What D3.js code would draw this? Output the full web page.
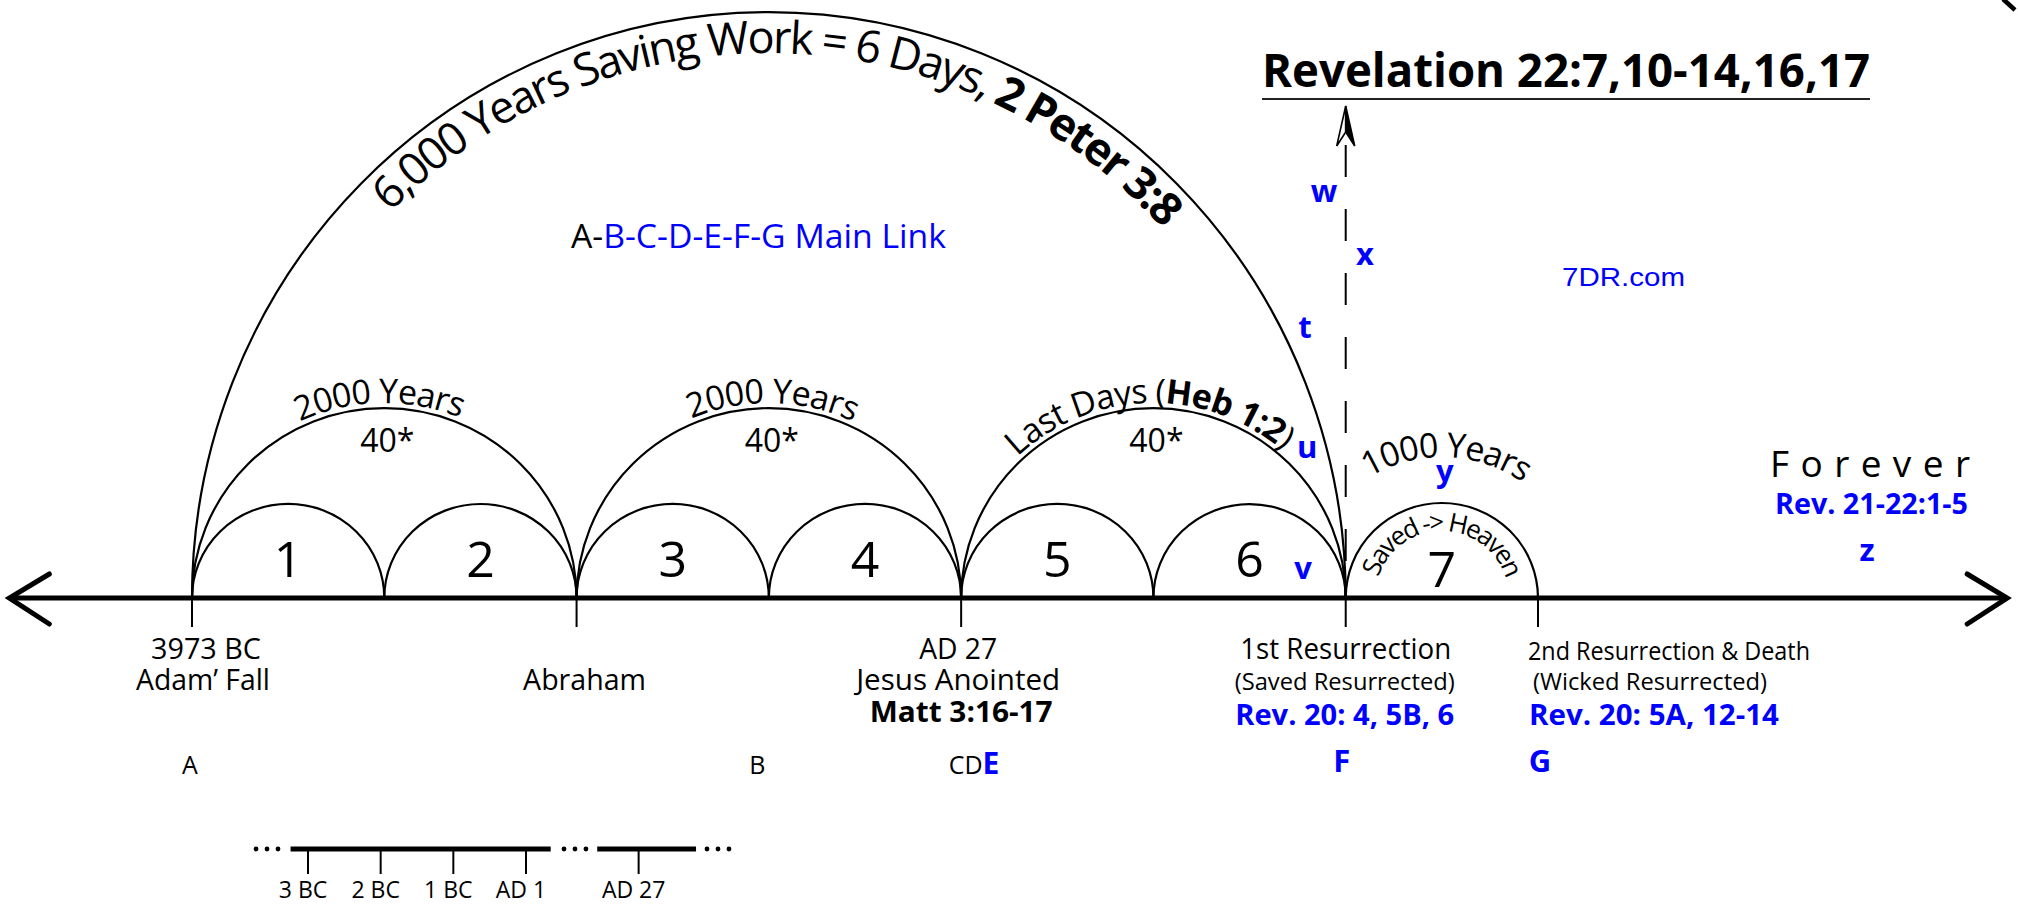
<!DOCTYPE html>
<html>
<head>
<meta charset="utf-8">
<script src="https://cdn.jsdelivr.net/npm/d3@7"></script>
<style>
  html, body { margin: 0; padding: 0; background: #fff; }
  svg { display: block; }
  text { font-family: "Open Sans", sans-serif; }
</style>
</head>
<body>
<svg id="chart"></svg>
<script>
// time line in millennia: 0 = 3973 BC (Adam), 6 = 1st resurrection, 7 = 2nd resurrection
const dayArcs = [[0, 1], [1, 2], [2, 3], [3, 4], [4, 5], [5, 6], [6, 7]];
const dayNumbers = ["1", "2", "3", "4", "5", "6", "7"];
const ageArcs = [[0, 2], [2, 4], [4, 6]];
const ageNotes = ["40*", "40*", "40*"];
const ageTitles = [
  [["2000 Years", 400]],
  [["2000 Years", 400]],
  [["Last Days (", 400], ["Heb 1:2", 700], [")", 400]]
];
const workArc = [0, 6];
const workTitle = [["6,000 Years Saving Work = 6 Days, ", 400], ["2 Peter 3:8", 700]];
const millTitle = [["1000 Years", 400]];
const millInner = [["Saved -> Heaven", 400]];

// arc heights, in millennia
const dayRise = 0.489, ageRise = 0.988, workRise = 3.047;

const eventTicks = [0, 2, 4, 6, 7];
const axisExtent = [-0.95, 9.44];

// blue marker letters: position on time line and height above it (millennia)
const markers = [
  { label: "w", at: 5.887, h: 2.059 },
  { label: "x", at: 6.100, h: 1.732 },
  { label: "t", at: 5.788, h: 1.352 },
  { label: "u", at: 5.799, h: 0.728 },
  { label: "v", at: 5.778, h: 0.099 },
  { label: "y", at: 6.516, h: 0.603 },
  { label: "z", at: 8.711, h: 0.192 }
];

// small inset time line
const insetTicks = ["3 BC", "2 BC", "1 BC", "AD 1", "AD 27"];
const insetPos = [0, 1, 2, 3, 4.55];
const insetSegments = [[-0.24, 3.34], [3.98, 5.34]];
const insetDots = [-0.564, 3.674, 5.642];

const W = 2018, H = 914;
const blue = "#0000ff";

const svg = d3.select("#chart")
  .attr("width", W).attr("height", H)
  .attr("viewBox", `0 0 ${W} ${H}`);
const defs = svg.append("defs");

const x = d3.scaleLinear().domain([0, 7]).range([192, 1538]);
const unit = x(1) - x(0);
const y = d3.scaleLinear().domain([0, 1]).range([598, 598 - unit]);
const base = y(0);

function arcD(a, b, rise) {
  const rx = (x(b) - x(a)) / 2, ry = base - y(rise);
  return `M${x(a)},${base} A${rx},${ry} 0 0 1 ${x(b)},${base}`;
}

// simple text helper, parts = [text, weight, fill, size]
function label(px, py, parts, size, opts = {}) {
  const t = svg.append("text")
    .attr("x", px).attr("y", py)
    .attr("font-size", size)
    .attr("text-anchor", opts.anchor || "middle");
  parts.forEach(p => {
    t.append("tspan")
      .attr("font-weight", p[1] || 400)
      .attr("fill", p[2] || "#000")
      .attr("font-size", p[3] || null)
      .text(p[0]);
  });
  if (opts.width) t.attr("textLength", opts.width).attr("lengthAdjust", opts.adjust || "spacingAndGlyphs");
  if (opts.family) t.style("font-family", opts.family);
  return t;
}

// text along an elliptical arc centred on angle mid (degrees)
function curved(id, cx, cy, rx, ry, mid, parts, size, target) {
  const a0 = (mid + 90) * Math.PI / 180, a1 = (mid - 90) * Math.PI / 180;
  const p0 = [cx + rx * Math.cos(a0), cy - ry * Math.sin(a0)];
  const p1 = [cx + rx * Math.cos(a1), cy - ry * Math.sin(a1)];
  defs.append("path").attr("id", id).attr("d", `M${p0} A${rx},${ry} 0 0 1 ${p1}`);
  const t = svg.append("text").attr("font-size", size).attr("fill", "#000");
  const tp = t.append("textPath")
    .attr("href", "#" + id)
    .attr("startOffset", "50%")
    .attr("text-anchor", "middle");
  parts.forEach(p => tp.append("tspan").attr("font-weight", p[1]).text(p[0]));
  const len = t.node().getComputedTextLength();
  const n = parts.map(p => p[0]).join("").length;
  if (len > 0 && target) t.attr("letter-spacing", (target - len) / n);
}

// arcs
const arcs = svg.append("g").attr("fill", "none").attr("stroke", "#000").attr("stroke-width", 2.2);
arcs.append("path").attr("d", arcD(workArc[0], workArc[1], workRise));
arcs.selectAll(".age").data(ageArcs).join("path")
  .attr("class", "age")
  .attr("d", d => arcD(d[0], d[1], ageRise));
arcs.selectAll(".day").data(dayArcs).join("path")
  .attr("class", "day")
  .attr("d", (d, i) => arcD(d[0], d[1], i === 6 ? 0.494 : dayRise));

// dashed line up to Revelation + arrow head
svg.append("line")
  .attr("x1", x(6)).attr("x2", x(6))
  .attr("y1", 145).attr("y2", base)
  .attr("stroke", "#000").attr("stroke-width", 2)
  .attr("stroke-dasharray", "32,32");
const ax = x(6);
svg.append("path")
  .attr("d", `M${ax},106 L${ax - 9},146 L${ax},132 Z`)
  .attr("fill", "#fff").attr("stroke", "#000").attr("stroke-width", 1.6)
  .attr("stroke-linejoin", "miter");
svg.append("path")
  .attr("d", `M${ax},106 L${ax + 9},146 L${ax},132 Z`)
  .attr("fill", "#000").attr("stroke", "#000").attr("stroke-width", 1.6);

// main axis with open arrow heads
svg.append("line")
  .attr("x1", x(axisExtent[0])).attr("x2", x(axisExtent[1]))
  .attr("y1", base).attr("y2", base)
  .attr("stroke", "#000").attr("stroke-width", 5);
const xl = x(axisExtent[0]), xr = x(axisExtent[1]);
svg.append("path")
  .attr("d", `M${xl + 40},${base - 24} L${xl},${base} L${xl + 40},${base + 26}`)
  .attr("fill", "none").attr("stroke", "#000").attr("stroke-width", 5)
  .attr("stroke-linecap", "round");
svg.append("path")
  .attr("d", `M${xr - 40},${base - 24} L${xr},${base} L${xr - 40},${base + 26}`)
  .attr("fill", "none").attr("stroke", "#000").attr("stroke-width", 5)
  .attr("stroke-linecap", "round");

// event ticks below the axis
svg.selectAll(".tick").data(eventTicks).join("line")
  .attr("class", "tick")
  .attr("x1", d => x(d)).attr("x2", d => x(d))
  .attr("y1", base).attr("y2", base + 29)
  .attr("stroke", "#000").attr("stroke-width", 2);

// stray stroke at top right corner of the original
svg.append("line")
  .attr("x1", 2003).attr("y1", -1).attr("x2", 2015).attr("y2", 10)
  .attr("stroke", "#000").attr("stroke-width", 4.5);

// day numbers
svg.selectAll(".num").data(dayArcs).join("text")
  .attr("class", "num")
  .attr("x", d => x((d[0] + d[1]) / 2))
  .attr("y", (d, i) => i === 6 ? 587 : 577)
  .attr("text-anchor", "middle")
  .attr("font-size", 50)
  .text((d, i) => dayNumbers[i]);

// 40* notes
svg.selectAll(".note").data(ageArcs).join("text")
  .attr("class", "note")
  .attr("x", d => x((d[0] + d[1]) / 2) + 3)
  .attr("y", 452)
  .attr("text-anchor", "middle")
  .attr("font-size", 32)
  .text((d, i) => ageNotes[i]);

// curved titles
curved("p-work", x(3), base, (x(6) - x(0)) / 2 - 41, base - y(workRise) - 41, 88.9, workTitle, 45, 864);
const ageMid = [91.5, 89, 91.4], ageLen = [164, 166, 290];
ageArcs.forEach((d, i) => {
  curved("p-age" + i, x((d[0] + d[1]) / 2), base, unit + 5, base - y(ageRise) + 5,
    ageMid[i], ageTitles[i], 34, ageLen[i]);
});
curved("p-mill", x(6.5), base, 141, 141, 88.3, millTitle, 34, 162);
curved("p-saved", x(6.5), base, 67, 67, 90, millInner, 26, 168);

// blue marker letters
svg.selectAll(".mark").data(markers).join("text")
  .attr("class", "mark")
  .attr("x", d => x(d.at))
  .attr("y", d => y(d.h))
  .attr("text-anchor", "middle")
  .attr("font-size", 31)
  .attr("font-weight", 700)
  .attr("fill", blue)
  .text(d => d.label);

// header texts
label(1262, 87, [["Revelation 22:7,10-14,16,17", 700]], 46, { anchor: "start", width: 608 });
svg.append("line")
  .attr("x1", 1262).attr("x2", 1870).attr("y1", 99).attr("y2", 99)
  .attr("stroke", "#222").attr("stroke-width", 2);
label(571, 248, [["A-", 400, "#000"], ["B-C-D-E-F-G Main Link", 400, blue]], 33, { anchor: "start", width: 375 });
label(1562, 286, [["7DR.com", 400, blue]], 26, { anchor: "start", width: 123, family: "'Liberation Sans', Arial, sans-serif" });
label(1770, 477, [["Forever", 400]], 37, { anchor: "start", width: 200, adjust: "spacing" });
label(1775, 514, [["Rev. 21-22:1-5", 700, blue]], 29, { anchor: "start", width: 193 });

// event labels under the axis
label(x(0) + 14, 659, [["3973 BC"]], 29, { width: 110 });
label(x(0) + 11, 690, [["Adam\u2019 Fall"]], 29, { width: 134 });
label(x(2) + 8, 690, [["Abraham"]], 29, { width: 123 });
label(x(4) - 3, 659, [["AD 27"]], 29, { width: 78 });
label(x(4) - 3, 690, [["Jesus Anointed"]], 29, { width: 204 });
label(x(4), 722, [["Matt 3:16-17", 700]], 29, { width: 183 });
label(x(6), 659, [["1st Resurrection"]], 29, { width: 211 });
label(x(6) - 1, 690, [["(Saved Resurrected)"]], 24, { width: 220 });
label(x(6) - 1, 725, [["Rev. 20: 4, 5B, 6", 700, blue]], 29, { width: 219 });
label(x(7) - 10, 660, [["2nd Resurrection & Death"]], 25, { anchor: "start", width: 282 });
label(x(7) - 5, 690, [["(Wicked Resurrected)"]], 24, { anchor: "start", width: 234 });
label(x(7) - 9, 725, [["Rev. 20: 5A, 12-14", 700, blue]], 29, { anchor: "start", width: 250 });

// link letters row
label(x(0) - 2, 774, [["A"]], 25);
label(x(2.94), 774, [["B"]], 25);
label(x(3.935), 774, [["CD"], ["E", 700, blue, 30]], 25, { anchor: "start" });
label(x(5.98), 772, [["F", 700, blue]], 31);
label(x(7.01), 772, [["G", 700, blue]], 31);

// inset time line
const xi = d3.scaleLinear().domain([0, 3]).range([308, 526]);
const iy = 849;
const inset = svg.append("g");
inset.selectAll(".seg").data(insetSegments).join("line")
  .attr("x1", d => xi(d[0])).attr("x2", d => xi(d[1]))
  .attr("y1", iy).attr("y2", iy)
  .attr("stroke", "#000").attr("stroke-width", 5);
inset.selectAll(".itick").data(insetPos).join("line")
  .attr("x1", d => xi(d)).attr("x2", d => xi(d))
  .attr("y1", iy).attr("y2", iy + 25)
  .attr("stroke", "#000").attr("stroke-width", 2);
inset.selectAll(".dot").data(insetDots.flatMap(c => [c - 0.151, c, c + 0.151])).join("circle")
  .attr("cx", d => xi(d)).attr("cy", iy)
  .attr("r", 2.4).attr("fill", "#000");
inset.selectAll(".ilab").data(insetTicks).join("text")
  .attr("x", (d, i) => xi(insetPos[i]) - 5)
  .attr("y", 898)
  .attr("text-anchor", "middle")
  .attr("font-size", 23)
  .text(d => d);
</script>
</body>
</html>
